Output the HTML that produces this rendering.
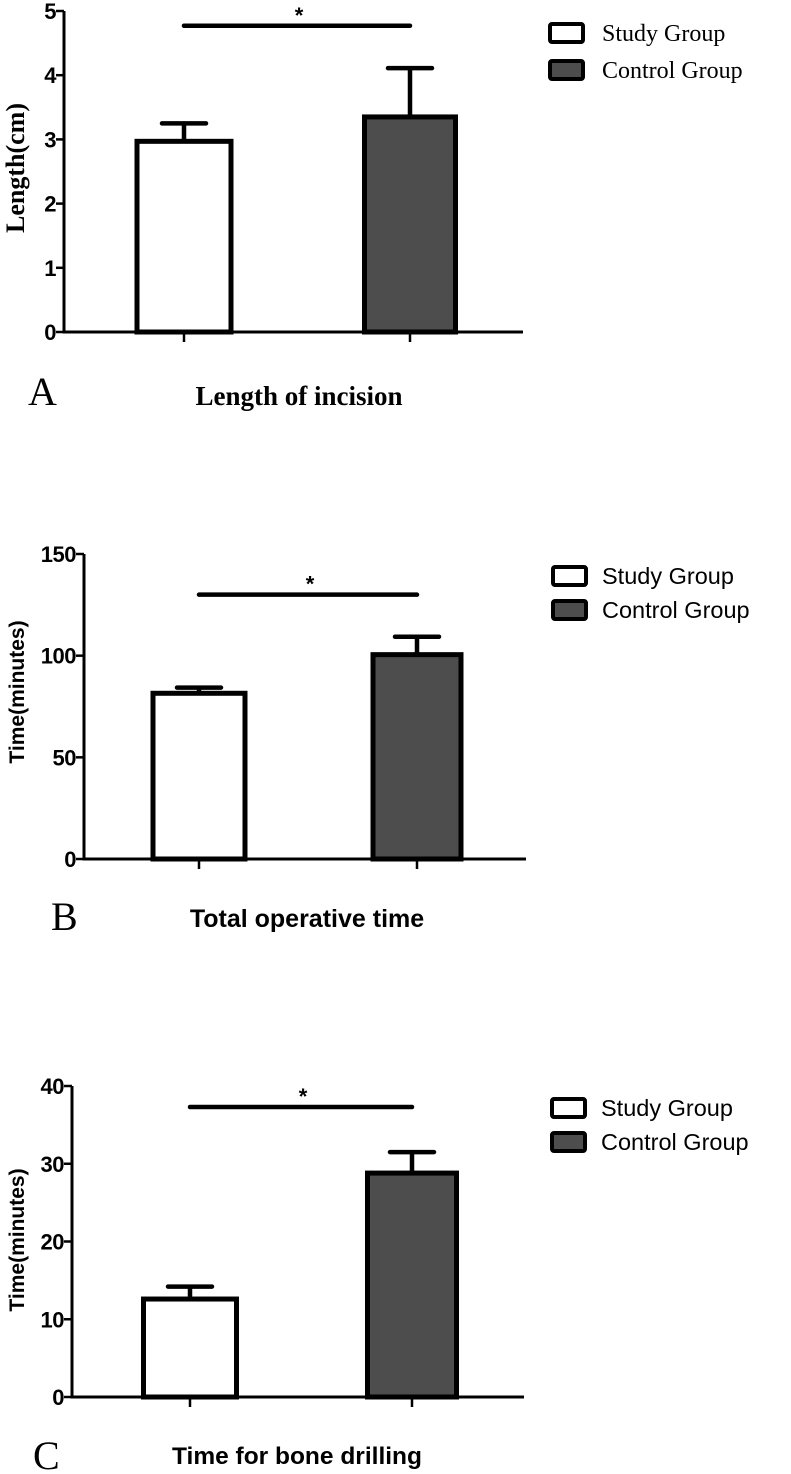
<!DOCTYPE html>
<html><head><meta charset="utf-8"><style>
html,body{margin:0;padding:0;background:#fff;}
svg{display:block;}
</style></head><body>
<svg id="chart" width="791" height="1474" viewBox="0 0 791 1474" xmlns="http://www.w3.org/2000/svg"></svg>
<script>
const groups = ["Study Group", "Control Group"];
const lengthMeans = [2.97, 3.35];
const lengthErrors = [0.28, 0.76];
const opTimeMeans = [81.5, 100.5];
const opTimeErrors = [2.8, 8.8];
const drillMeans = [12.6, 28.8];
const drillErrors = [1.6, 2.7];
const lengthTicks = [0, 1, 2, 3, 4, 5];
const opTimeTicks = [0, 50, 100, 150];
const drillTicks = [0, 10, 20, 30, 40];
const sigLevels = [4.77, 130, 37.3];

const NS = "http://www.w3.org/2000/svg";
const svg = document.getElementById("chart");
function mk(tag, attrs, parent, text){
  const e = document.createElementNS(NS, tag);
  for (const k in attrs) e.setAttribute(k, attrs[k]);
  if (text !== undefined) e.textContent = text;
  (parent || svg).appendChild(e);
  return e;
}

const panels = [
  {key:"a", means:lengthMeans, errs:lengthErrors, ticks:lengthTicks, sig:sigLevels[0],
   ax:64, y0:332, yTop:11, vmax:5, xEnd:523, centers:[184,410], halfW:[47,45.5],
   font:'"Liberation Serif", serif', ytitle:"Length(cm)", ytx:24, yty:168, ysize:26,
   letter:"A", lx:28, ly:405, title:"Length of incision", tx:299, ty:405, tsize:27,
   legY:[33,70], legX:550, legText:602, legSize:24},
  {key:"b", means:opTimeMeans, errs:opTimeErrors, ticks:opTimeTicks, sig:sigLevels[1],
   ax:84, y0:859, yTop:554, vmax:150, xEnd:526, centers:[199,417], halfW:[46,44],
   font:'"Liberation Sans", sans-serif', ytitle:"Time(minutes)", ytx:24, yty:692, ysize:21,
   letter:"B", lx:51, ly:930, title:"Total operative time", tx:307, ty:927, tsize:25,
   legY:[576,610], legX:553, legText:602, legSize:23.5},
  {key:"c", means:drillMeans, errs:drillErrors, ticks:drillTicks, sig:sigLevels[2],
   ax:72, y0:1397, yTop:1086, vmax:40, xEnd:524, centers:[190,412], halfW:[46.5,44.5],
   font:'"Liberation Sans", sans-serif', ytitle:"Time(minutes)", ytx:24, yty:1240, ysize:21,
   letter:"C", lx:33, ly:1469, title:"Time for bone drilling", tx:297, ty:1464, tsize:24.5,
   legY:[1108,1142], legX:552, legText:601, legSize:23.5}
];
const fills = ["#ffffff", "#4d4d4d"];

panels.forEach(p => {
  const g = mk("g", {}, svg);
  
  
  const yS = v => p.y0 - (v / p.vmax) * (p.y0 - p.yTop);
  const tickFont = '"Liberation Sans", sans-serif';
  p.means.forEach((m, i) => {
    const cx = p.centers[i], hw = p.halfW[i];
    const top = yS(m), et = yS(m + p.errs[i]);
    const err = mk("path", {d:`M${cx},${top} V${et} M${cx-22},${et} H${cx+22}`, stroke:"#000", "stroke-width":4.5, "stroke-linecap":"round", fill:"none"}, g);
    
    
    const r = mk("rect", {x:cx-hw, y:top, width:hw*2, height:p.y0-top, fill:fills[i], stroke:"#000", "stroke-width":5}, g);
    
    
    const t = mk("line", {x1:cx, x2:cx, y1:p.y0, y2:p.y0+10, stroke:"#000", "stroke-width":2.5}, g);
    
    
  });
  const ya = mk("line", {x1:p.ax, x2:p.ax, y1:p.yTop, y2:p.y0+1.5, stroke:"#000", "stroke-width":3}, g);
  
  
  const xa = mk("line", {x1:p.ax, x2:p.xEnd, y1:p.y0, y2:p.y0, stroke:"#000", "stroke-width":3}, g);
  
  
  p.ticks.forEach(v => {
    const y = yS(v);
    const tl = mk("line", {x1:p.ax-8, x2:p.ax, y1:y, y2:y, stroke:"#000", "stroke-width":2.5}, g);
    
    
    const tt = mk("text", {x:p.ax-8, y:y+8, "text-anchor":"end", "font-family":tickFont, "font-weight":"bold", "font-size":22, "letter-spacing":-0.5}, g, String(v));
    
    
  });
  const sy = yS(p.sig);
  const sl = mk("line", {x1:p.centers[0], x2:p.centers[1], y1:sy, y2:sy, stroke:"#000", "stroke-width":4.5, "stroke-linecap":"round"}, g);
  
  
  const st = mk("text", {x:(p.centers[0]+p.centers[1])/2 + 2, y:sy-3, "text-anchor":"middle", "font-family":tickFont, "font-weight":"bold", "font-size":22}, g, "*");
  
  
  const yt = mk("text", {x:0, y:0, transform:`translate(${p.ytx},${p.yty}) rotate(-90)`, "text-anchor":"middle", "font-family":p.font, "font-weight":"bold", "font-size":p.ysize}, g, p.ytitle);
  
  
  const lt = mk("text", {x:p.lx, y:p.ly, "font-family":'"Liberation Serif", serif', "font-size":40}, g, p.letter);
  
  
  const tt = mk("text", {x:p.tx, y:p.ty, "text-anchor":"middle", "font-family":p.font, "font-weight":"bold", "font-size":p.tsize}, g, p.title);
  
  
  groups.forEach((name, i) => {
    const cy = p.legY[i];
    const lb = mk("rect", {x:p.legX, y:cy-9, width:33, height:18, fill:fills[i], stroke:"#000", "stroke-width":4, rx:2}, g);
    
    
    const ltx = mk("text", {x:p.legText, y:cy+8, "font-family":p.font, "font-size":p.legSize}, g, name);
    
    
  });
});
</script>
</body></html>
